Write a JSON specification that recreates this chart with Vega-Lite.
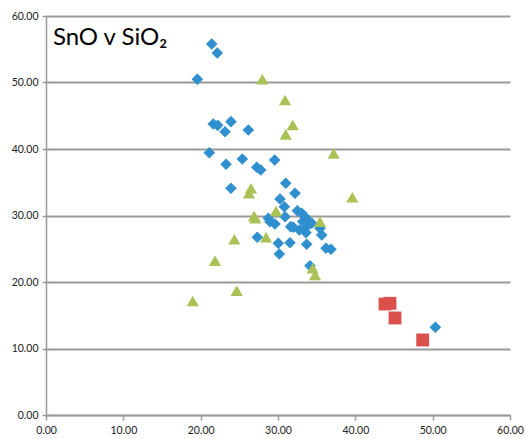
{
  "$schema": "https://vega.github.io/schema/vega-lite/v6.json",
  "width": 464,
  "height": 399,
  "autosize": "none",
  "padding": {"left": 46, "top": 16, "right": 16, "bottom": 24},
  "background": "white",
  "config": {
    "view": {"stroke": null},
    "font": "Lato",
    "axis": {"labelFont": "Lato", "labelFontSize": 10.5, "labelColor": "#222222", "domainColor": "#9a9a9a", "domainWidth": 1.5, "tickColor": "#9a9a9a", "tickWidth": 1.5, "tickSize": 5, "title": null}
  },
  "datasets": {
    "pts": [
      {"s": "A", "x": 21.43, "y": 55.79},
      {"s": "A", "x": 22.15, "y": 54.44},
      {"s": "A", "x": 19.57, "y": 50.48},
      {"s": "A", "x": 21.63, "y": 43.76},
      {"s": "A", "x": 22.2, "y": 43.56},
      {"s": "A", "x": 23.92, "y": 44.11},
      {"s": "A", "x": 23.15, "y": 42.6},
      {"s": "A", "x": 26.16, "y": 42.86},
      {"s": "A", "x": 21.12, "y": 39.44},
      {"s": "A", "x": 23.28, "y": 37.7},
      {"s": "A", "x": 25.38, "y": 38.5},
      {"s": "A", "x": 27.25, "y": 37.25},
      {"s": "A", "x": 27.76, "y": 36.84},
      {"s": "A", "x": 29.57, "y": 38.35},
      {"s": "A", "x": 23.92, "y": 34.09},
      {"s": "A", "x": 31.0, "y": 34.84},
      {"s": "A", "x": 32.2, "y": 33.34},
      {"s": "A", "x": 30.26, "y": 32.48},
      {"s": "A", "x": 30.82, "y": 31.32},
      {"s": "A", "x": 30.91, "y": 29.82},
      {"s": "A", "x": 28.97, "y": 29.07},
      {"s": "A", "x": 29.61, "y": 28.72},
      {"s": "A", "x": 28.75, "y": 29.58},
      {"s": "A", "x": 32.5, "y": 30.72},
      {"s": "A", "x": 33.07, "y": 30.33},
      {"s": "A", "x": 33.49, "y": 29.82},
      {"s": "A", "x": 33.92, "y": 29.22},
      {"s": "A", "x": 34.36, "y": 28.83},
      {"s": "A", "x": 31.98, "y": 28.23},
      {"s": "A", "x": 32.76, "y": 27.82},
      {"s": "A", "x": 33.62, "y": 27.41},
      {"s": "A", "x": 35.43, "y": 28.08},
      {"s": "A", "x": 35.65, "y": 27.07},
      {"s": "A", "x": 31.64, "y": 28.32},
      {"s": "A", "x": 27.32, "y": 26.72},
      {"s": "A", "x": 30.04, "y": 25.82},
      {"s": "A", "x": 31.55, "y": 25.91},
      {"s": "A", "x": 30.17, "y": 24.21},
      {"s": "A", "x": 33.71, "y": 25.67},
      {"s": "A", "x": 36.21, "y": 25.07},
      {"s": "A", "x": 36.85, "y": 24.92},
      {"s": "A", "x": 34.14, "y": 22.45},
      {"s": "A", "x": 33.62, "y": 28.23},
      {"s": "A", "x": 33.2, "y": 29.1},
      {"s": "A", "x": 50.35, "y": 13.19},
      {"s": "B", "x": 27.97, "y": 50.48},
      {"s": "B", "x": 30.91, "y": 47.37},
      {"s": "B", "x": 31.9, "y": 43.61},
      {"s": "B", "x": 31.0, "y": 42.2},
      {"s": "B", "x": 37.2, "y": 39.35},
      {"s": "B", "x": 26.51, "y": 34.09},
      {"s": "B", "x": 26.25, "y": 33.34},
      {"s": "B", "x": 39.61, "y": 32.74},
      {"s": "B", "x": 26.9, "y": 29.92},
      {"s": "B", "x": 27.07, "y": 29.58},
      {"s": "B", "x": 29.74, "y": 30.68},
      {"s": "B", "x": 35.43, "y": 29.07},
      {"s": "B", "x": 28.45, "y": 26.72},
      {"s": "B", "x": 24.35, "y": 26.42},
      {"s": "B", "x": 21.85, "y": 23.2},
      {"s": "B", "x": 34.49, "y": 22.06},
      {"s": "B", "x": 34.79, "y": 21.05},
      {"s": "B", "x": 24.66, "y": 18.69},
      {"s": "B", "x": 18.97, "y": 17.14},
      {"s": "C", "x": 43.84, "y": 16.69},
      {"s": "C", "x": 44.48, "y": 16.8},
      {"s": "C", "x": 45.13, "y": 14.59},
      {"s": "C", "x": 48.71, "y": 11.28}
    ],
    "label": [
      {"x": 0.9, "y": 55.6, "t": "SnO v SiO₂"}
    ]
  },
  "layer": [
    {
      "data": {"name": "pts"},
      "mark": {"type": "point", "filled": true, "opacity": 1, "strokeWidth": 0},
      "encoding": {
        "x": {"field": "x", "type": "quantitative", "scale": {"domain": [0, 60], "nice": false, "zero": false},
              "axis": {"values": [0, 10, 20, 30, 40, 50, 60], "format": ".2f", "grid": false, "labelPadding": 5, "labelFlush": false}},
        "y": {"field": "y", "type": "quantitative", "scale": {"domain": [0, 60], "nice": false, "zero": false},
              "axis": {"values": [0, 10, 20, 30, 40, 50, 60], "format": ".2f", "grid": true, "gridColor": "#9a9a9a", "gridWidth": 1.8, "labelPadding": 4, "tickSize": 4}},
        "shape": {"field": "s", "type": "nominal", "legend": null, "scale": {"domain": ["A", "B", "C"], "range": ["diamond", "triangle-up", "square"]}},
        "color": {"field": "s", "type": "nominal", "legend": null, "scale": {"domain": ["A", "B", "C"], "range": ["#2F8FCF", "#A9C255", "#D9504C"]}},
        "size": {"field": "s", "type": "nominal", "legend": null, "scale": {"domain": ["A", "B", "C"], "range": [135, 165, 110]}}
      }
    },
    {
      "data": {"name": "label"},
      "mark": {"type": "text", "align": "left", "baseline": "alphabetic", "font": "Lato", "fontSize": 24, "color": "#000000"},
      "encoding": {
        "x": {"field": "x", "type": "quantitative"},
        "y": {"field": "y", "type": "quantitative"},
        "text": {"field": "t"}
      }
    }
  ]
}
